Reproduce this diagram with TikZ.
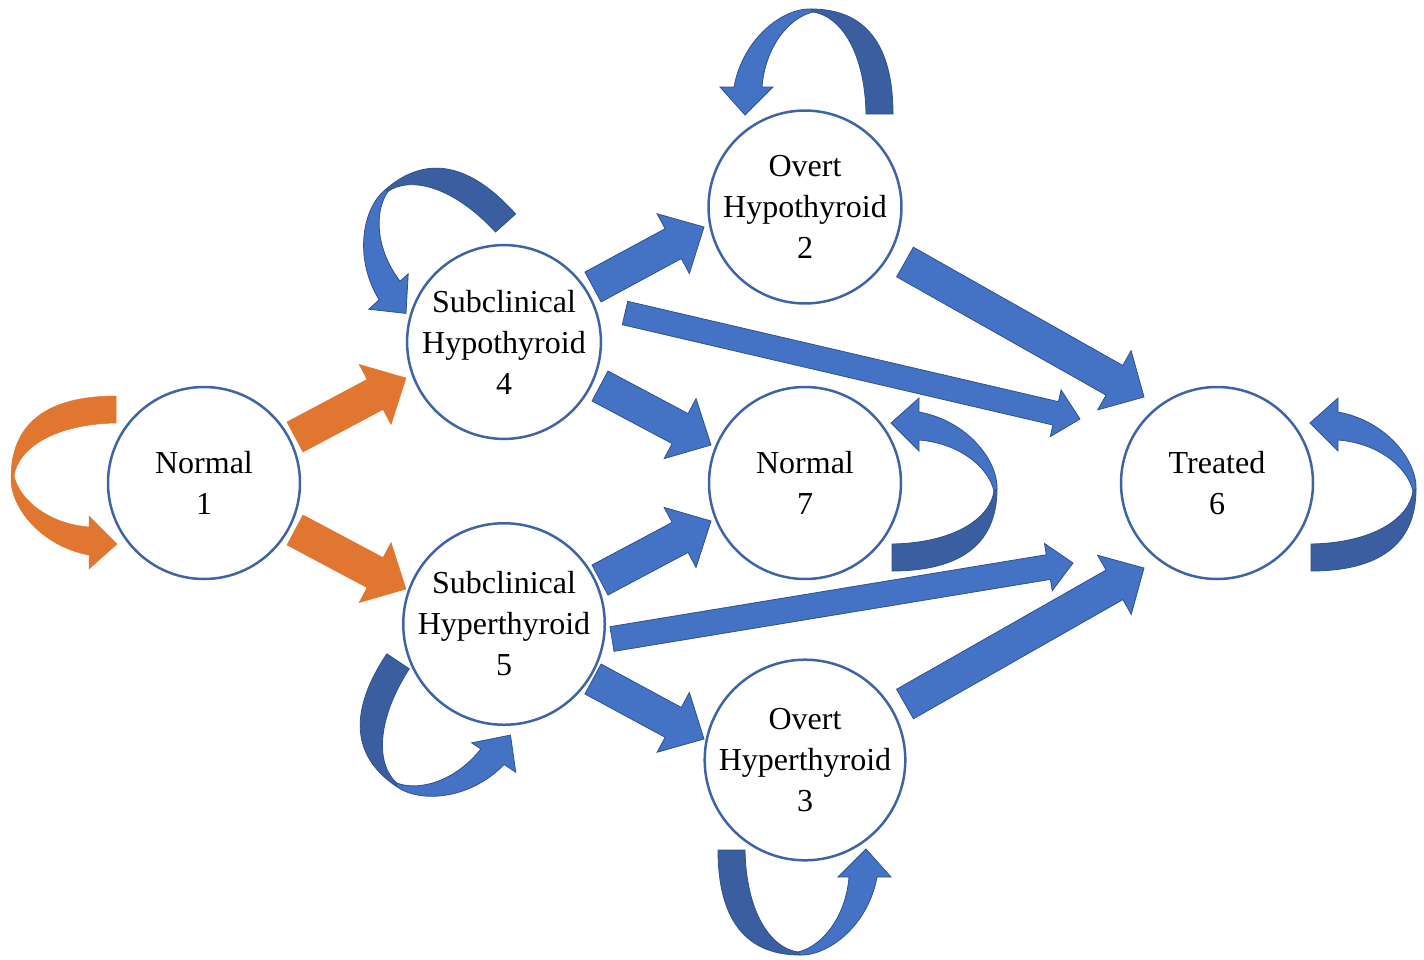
\documentclass[tikz,border=0pt]{standalone}
\usepackage{fontspec}
\setmainfont{Liberation Serif}
\usetikzlibrary{calc}
\definecolor{circ}{HTML}{3F64A6}
\definecolor{bfill}{HTML}{4472C4}
\definecolor{bdark}{HTML}{3A5E9F}
\definecolor{bline}{HTML}{2F528F}
\definecolor{ofill}{HTML}{E07630}
\tikzset{
  state/.style={circle, draw=circ, line width=2.5pt, fill=white, minimum size=192pt,
    inner sep=0pt, align=center, font=\fontsize{32}{41}\selectfont},
  barrow/.style={fill=bfill, draw=bline, line width=0.8pt, line join=miter},
  btail/.style={fill=bdark, draw=bline, line width=0.8pt},
  oarrow/.style={fill=ofill, draw=ofill, line width=0.5pt},
}
% block arrow: style, start, end, shaft half width, head half width, head length
\newcommand\blockarrow[6]{%
  \coordinate (bneck) at ($(#3)!#6!(#2)$);
  \filldraw[#1] ($(#2)!#4!90:(#3)$) -- ($(bneck)!#4!90:(#3)$) -- ($(bneck)!#5!90:(#3)$)
    -- (#3) -- ($(bneck)!#5!-90:(#3)$) -- ($(bneck)!#4!-90:(#3)$) -- ($(#2)!#4!-90:(#3)$) -- cycle;
}
% curved (self-loop) arrow in a local frame: tail style, head style
\newcommand\loopshape[2]{%
  \filldraw[#1] (106,0) .. controls (40,0) and (1,25) .. (1,82) -- (4,80)
    .. controls (8,52) and (45,28) .. (106,27) -- cycle;
  \filldraw[#2] (1,82) .. controls (0,110) and (30,150) .. (79,159) -- (79,173) -- (107,148)
    -- (79,120) -- (79,131) .. controls (40,128) and (10,105) .. (4,80) -- cycle;
}
\begin{document}
\begin{tikzpicture}[x=1pt, y=-1pt]
\useasboundingbox (0,0) rectangle (1424,959);

% states
\node[state] (n1) at (204,483) {Normal\\1};
\node[state] (s4) at (504,342) {Subclinical\\Hypothyroid\\4};
\node[state] (s5) at (504,624) {Subclinical\\Hyperthyroid\\5};
\node[state] (o2) at (805,207) {Overt\\Hypothyroid\\2};
\node[state] (n7) at (805,483) {Normal\\7};
\node[state] (o3) at (805,760) {Overt\\Hyperthyroid\\3};
\node[state] (t6) at (1217,483) {Treated\\6};

% arrow end points (just outside the circles)
\coordinate (a14s) at (295,437);  \coordinate (a14e) at (406,378);
\coordinate (a15s) at (295,530);  \coordinate (a15e) at (406,589);
\coordinate (a42s) at (593,287);  \coordinate (a42e) at (704,227);
\coordinate (a47s) at (600,386);  \coordinate (a47e) at (711,445);
\coordinate (a46s) at (625,313);  \coordinate (a46e) at (1080,419);
\coordinate (a57s) at (600,580);  \coordinate (a57e) at (711,521);
\coordinate (a56s) at (612,639);  \coordinate (a56e) at (1073,563);
\coordinate (a53s) at (593,679);  \coordinate (a53e) at (704,739);
\coordinate (a26s) at (905,262);  \coordinate (a26e) at (1144,397);
\coordinate (a36s) at (905,704);  \coordinate (a36e) at (1144,568);

% straight transitions
\blockarrow{oarrow}{a14s}{a14e}{17pt}{34pt}{35pt}
\blockarrow{oarrow}{a15s}{a15e}{17pt}{34pt}{35pt}
\blockarrow{barrow}{a42s}{a42e}{17pt}{34pt}{35pt}
\blockarrow{barrow}{a47s}{a47e}{17pt}{34pt}{35pt}
\blockarrow{barrow}{a46s}{a46e}{12pt}{24pt}{25pt}
\blockarrow{barrow}{a57s}{a57e}{17pt}{34pt}{35pt}
\blockarrow{barrow}{a56s}{a56e}{12.5pt}{24pt}{25pt}
\blockarrow{barrow}{a53s}{a53e}{17pt}{34pt}{35pt}
\blockarrow{barrow}{a26s}{a26e}{17pt}{34pt}{34pt}
\blockarrow{barrow}{a36s}{a36e}{17pt}{34pt}{34pt}

% self loops
\begin{scope}[shift={(10,396)}]\loopshape{oarrow}{oarrow}\end{scope}
\begin{scope}[shift={(445,135)}, rotate=-48.2]\loopshape{btail}{barrow}\end{scope}
\begin{scope}[shift={(328,742)}, rotate=56.3]\loopshape{btail}{barrow}\end{scope}
\begin{scope}[shift={(893,8)}, rotate=-90]\loopshape{btail}{barrow}\end{scope}
\begin{scope}[shift={(718,956)}, rotate=90]\loopshape{btail}{barrow}\end{scope}
\begin{scope}[shift={(998,571)}, rotate=180]\loopshape{btail}{barrow}\end{scope}
\begin{scope}[shift={(1417,571)}, rotate=180]\loopshape{btail}{barrow}\end{scope}
\end{tikzpicture}
\end{document}
